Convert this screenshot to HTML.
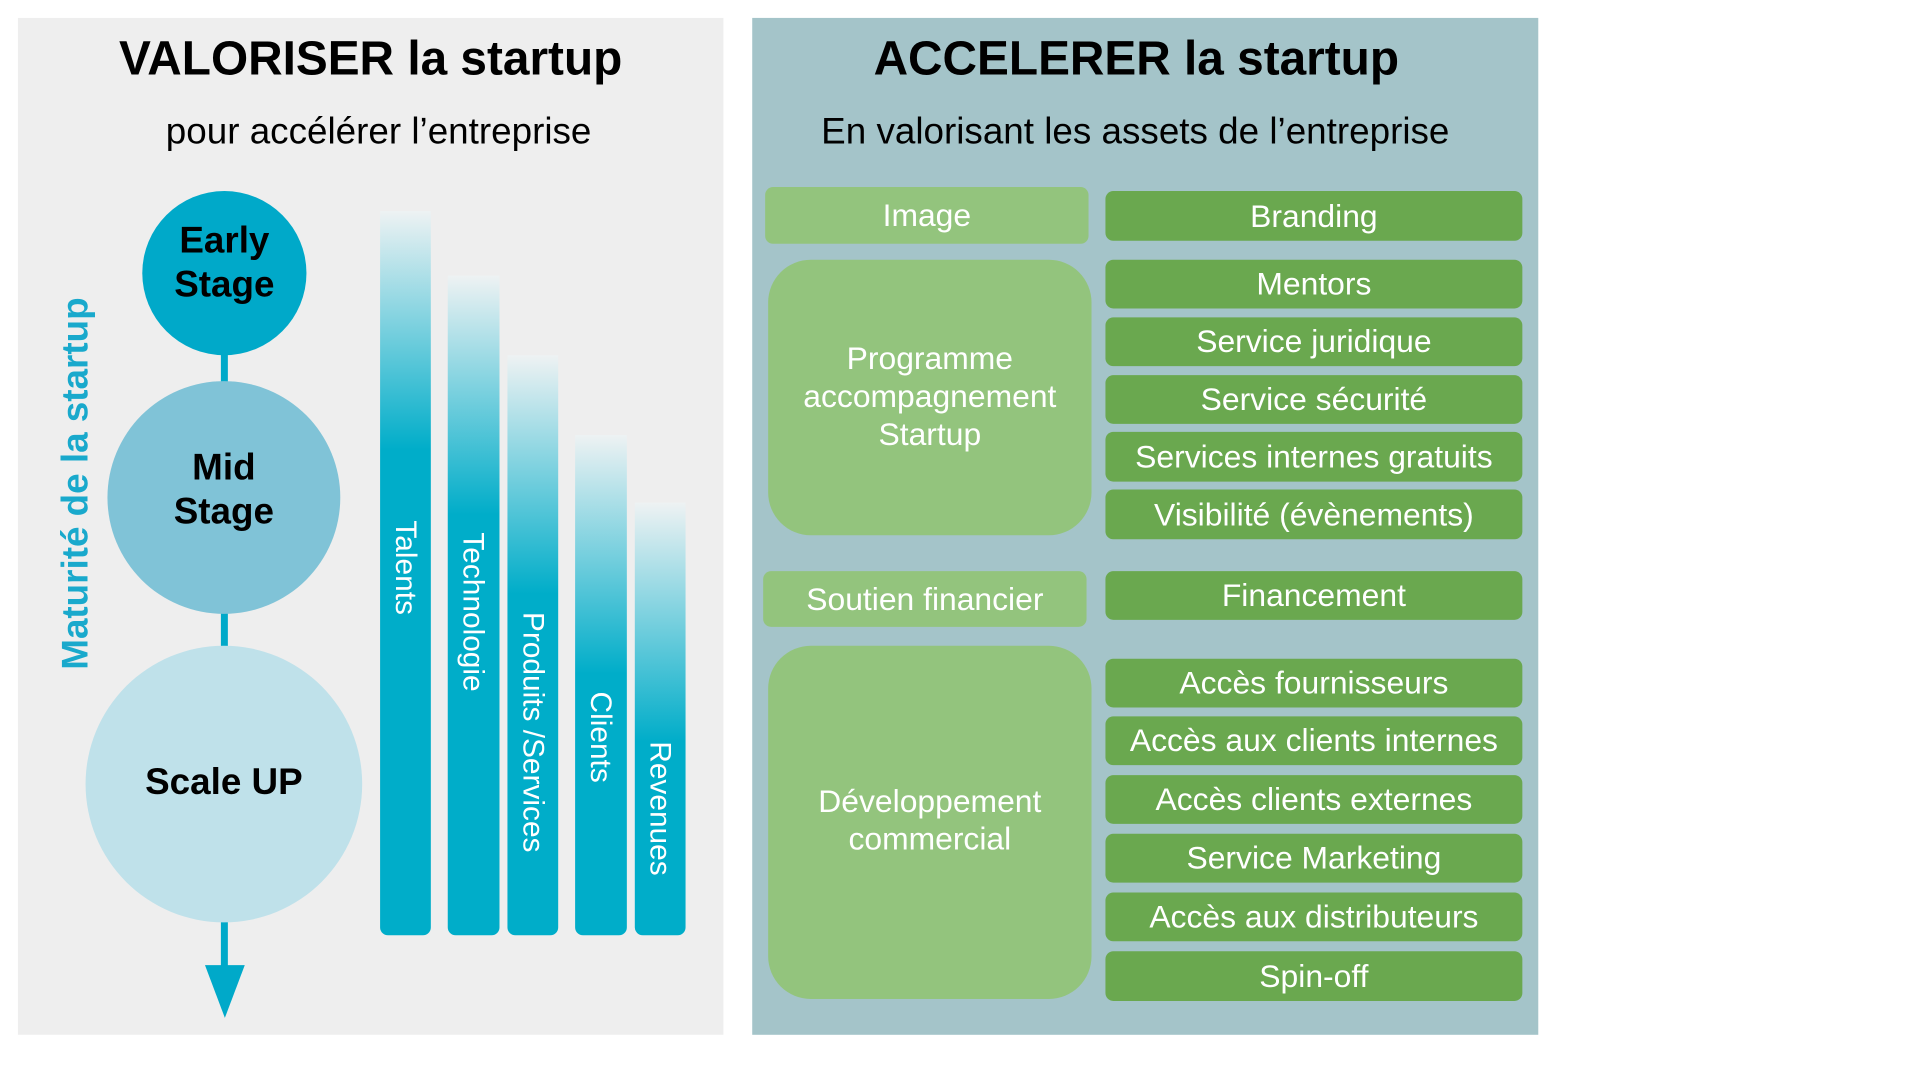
<!DOCTYPE html>
<html><head><meta charset="utf-8"><style>
*{margin:0;padding:0;box-sizing:border-box}
body{width:1920px;height:1080px;background:#fff;position:relative;overflow:hidden;font-family:"Liberation Sans",Arial,sans-serif}
#w{position:absolute;left:0;top:0;width:1920px;height:1080px;transform:scale(0.995);transform-origin:0 0}
.a{position:absolute}
.t{position:absolute;text-align:center;white-space:nowrap}
.c{position:absolute;border-radius:50%;display:flex;align-items:center;justify-content:center;text-align:center;font-weight:bold;font-size:37px;line-height:44px;color:#000}
.bar{position:absolute;border-radius:0 0 8px 8px;bottom:140px}
.bl{position:absolute;color:#fff;font-size:30px;white-space:nowrap;transform-origin:0 0;transform:rotate(90deg)}
.g1{position:absolute;background:#93c47d;border-radius:8px;color:#fff;font-size:32px;display:flex;align-items:center;justify-content:center;text-align:center}
.g2{position:absolute;left:1111px;width:419px;background:#6aa84f;border-radius:8px;color:#fff;font-size:32px;display:flex;align-items:center;justify-content:center;white-space:nowrap}
</style></head><body><div id="w">
<div class="a" style="left:18px;top:18px;width:709px;height:1022px;background:#eeeeee"></div>
<div class="a" style="left:756px;top:18px;width:790px;height:1022px;background:#a4c4c9"></div>

<div class="t" style="left:18px;width:709px;top:32px;font-size:48px;font-weight:bold">VALORISER la startup</div>
<div class="t" style="left:18px;width:725px;top:111px;font-size:37px">pour accélérer l’entreprise</div>
<div class="t" style="left:756px;width:772px;top:32px;font-size:48px;font-weight:bold">ACCELERER la startup</div>
<div class="t" style="left:756px;width:770px;top:111px;font-size:37px">En valorisant les assets de l’entreprise</div>

<div class="a" style="left:222px;top:340px;width:7px;height:50px;background:#00a9c9"></div>
<div class="a" style="left:222px;top:610px;width:7px;height:45px;background:#00a9c9"></div>
<div class="a" style="left:222px;top:925px;width:7px;height:55px;background:#00a9c9"></div>
<svg class="a" style="left:200px;top:965px" width="52" height="60"><polygon points="6,5 46,5 26,58" fill="#00a9c9"/></svg>
<div class="c" style="left:143px;top:192px;width:165px;height:165px;background:#00a9c9;padding-bottom:22px">Early<br>Stage</div>
<div class="c" style="left:108px;top:383px;width:234px;height:234px;background:#80c3d7;padding-bottom:16px">Mid<br>Stage</div>
<div class="c" style="left:86px;top:649px;width:278px;height:278px;background:#bfe1ea;padding-bottom:4px">Scale UP</div>
<div class="a" style="left:76px;top:486px;transform:translate(-50%,-50%) rotate(-90deg);font-size:37px;font-weight:bold;color:#19a9cc;white-space:nowrap">Maturité de la startup</div>

<div class="bar" style="left:382px;width:51px;top:212px;background:linear-gradient(#eef2f3,#00adc9 240px)"></div>
<div class="bar" style="left:450px;width:52px;top:277px;background:linear-gradient(#eef2f3,#00adc9 240px)"></div>
<div class="bar" style="left:510px;width:51px;top:357px;background:linear-gradient(#eef2f3,#00adc9 240px)"></div>
<div class="bar" style="left:578px;width:52px;top:437px;background:linear-gradient(#eef2f3,#00adc9 240px)"></div>
<div class="bar" style="left:638px;width:51px;top:505px;background:linear-gradient(#eef2f3,#00adc9 240px)"></div>
<div class="bl" style="left:424px;top:523px">Talents</div>
<div class="bl" style="left:492px;top:535px">Technologie</div>
<div class="bl" style="left:552px;top:615px">Produits /Services</div>
<div class="bl" style="left:620px;top:695px">Clients</div>
<div class="bl" style="left:680px;top:745px">Revenues</div>

<div class="g1" style="left:769px;top:188px;width:325px;height:57px">Image</div>
<div class="g1" style="left:772px;top:261px;width:325px;height:277px;border-radius:43px;line-height:38px;padding-bottom:4px">Programme<br>accompagnement<br>Startup</div>
<div class="g1" style="left:767px;top:574px;width:325px;height:56px">Soutien financier</div>
<div class="g1" style="left:772px;top:649px;width:325px;height:355px;border-radius:43px;line-height:38px;padding-bottom:6px">Développement<br>commercial</div>

<div class="g2" style="top:192px;height:50px">Branding</div>
<div class="g2" style="top:261px;height:49px">Mentors</div>
<div class="g2" style="top:319px;height:49px">Service juridique</div>
<div class="g2" style="top:377px;height:49px">Service sécurité</div>
<div class="g2" style="top:434px;height:50px">Services internes gratuits</div>
<div class="g2" style="top:492px;height:50px">Visibilité (évènements)</div>
<div class="g2" style="top:574px;height:49px">Financement</div>
<div class="g2" style="top:662px;height:49px">Accès fournisseurs</div>
<div class="g2" style="top:720px;height:49px">Accès aux clients internes</div>
<div class="g2" style="top:779px;height:49px">Accès clients externes</div>
<div class="g2" style="top:838px;height:49px">Service Marketing</div>
<div class="g2" style="top:897px;height:49px">Accès aux distributeurs</div>
<div class="g2" style="top:956px;height:50px">Spin-off</div>
</div></body></html>
